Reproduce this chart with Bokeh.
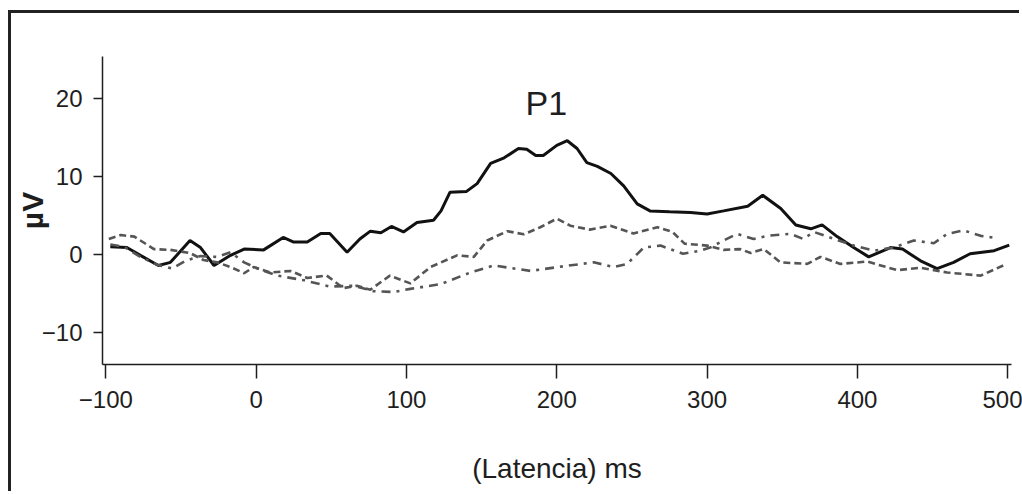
from bokeh.plotting import figure
from bokeh.models import Range1d, FixedTicker
from bokeh.core.properties import value
from bokeh.embed import file_html
from bokeh.resources import INLINE

# ---- data ----
solid_ms = [-97, -86, -77, -65, -57, -44, -37, -28, -17, -8, 5, 18, 25, 34, 43, 49, 60.5, 69, 76, 83,
            90, 98, 107, 118, 123, 129, 140, 147, 156, 165, 174.5, 180, 186, 191, 200, 207, 213.5, 220, 227, 236,
            244.5, 253.5, 262, 275, 289, 300, 311, 327, 337, 349, 359, 369, 376.5, 386.5, 397.5, 407.5, 422, 430, 442, 453,
            464, 475, 491, 501]
solid_uv = [1.0, 0.9, -0.1, -1.4, -1.0, 1.8, 0.9, -1.4, -0.1, 0.7, 0.6, 2.2, 1.6, 1.6, 2.7, 2.7, 0.3, 2.0, 3.0, 2.8,
            3.6, 2.9, 4.1, 4.4, 5.6, 8.0, 8.1, 9.1, 11.7, 12.4, 13.6, 13.5, 12.7, 12.7, 14.0, 14.6, 13.6, 11.8, 11.3, 10.4,
            8.8, 6.5, 5.6, 5.5, 5.4, 5.2, 5.6, 6.2, 7.6, 5.9, 3.8, 3.3, 3.8, 2.3, 0.9, -0.3, 0.9, 0.7, -0.8, -1.8,
            -1.0, 0.1, 0.5, 1.2]

dashed_ms = [-98, -90, -81, -68, -57, -44, -35, -26, -17, -8, -1.6, 9.5, 23, 34, 47, 58, 67, 76, 89, 102.6,
             116, 133.7, 144.8, 153.7, 167, 178, 189, 200, 209, 222, 235.7, 251, 267, 277, 285, 300, 311, 322, 329, 337.7,
             348.8, 366.6, 375.4, 388.7, 406.5, 426.4, 442, 459.7, 482, 497]
dashed_uv = [2.0, 2.5, 2.3, 0.7, 0.6, 0.2, -0.7, -1.0, -1.6, -2.4, -1.6, -2.3, -2.1, -3.0, -2.7, -4.3, -4.0, -4.5, -2.7, -3.7,
             -1.6, -0.1, -0.3, 1.8, 3.0, 2.6, 3.5, 4.6, 3.7, 3.2, 3.7, 2.7, 3.5, 2.9, 1.4, 1.15, 0.6, 0.7, 0.2, 0.7,
             -1.0, -1.2, -0.3, -1.2, -0.9, -2.0, -1.7, -2.3, -2.7, -1.4]

dashdot_ms = [-97, -88, -77, -66, -56, -47, -37, -26, -17, -8, 1, 14, 32, 49, 65, 78, 91.5, 102.6, 122.6, 142.6,
              158, 182.5, 204.6, 224.6, 238, 246.8, 257.9, 269, 284, 295.6, 302, 311, 320, 331, 340, 355.4, 364, 371, 397.5, 410.9,
              424, 437.5, 450.8, 459.7, 470.7, 482, 493]
dashdot_uv = [1.3, 1.0, -0.3, -1.3, -1.8, -0.8, -0.2, -0.3, 0.3, -1.0, -1.8, -2.7, -3.3, -4.1, -4.0, -4.7, -4.8, -4.4, -3.8, -2.3,
              -1.4, -2.1, -1.5, -1.0, -1.6, -1.2, 0.9, 1.15, 0.1, 0.5, 0.9, 1.8, 2.65, 2.0, 2.4, 2.65, 2.0, 2.9, 1.15, 0.5,
              0.9, 1.8, 1.45, 2.65, 3.1, 2.4, 2.1]

x_ticks = [-100, 0, 100, 200, 300, 400, 500]
y_ticks = [-10, 0, 10, 20]
peak_label = "P1"
x_title = "(Latencia) ms"
y_title = "µV"

FONT = "Liberation Sans"
INK = "#1e1e1e"

p = figure(width=1011, height=481, output_backend="svg", toolbar_location=None,
           x_range=Range1d(-102.2, 502.5), y_range=Range1d(-14.1, 25.4),
           min_border_left=91, min_border_right=11, min_border_top=43, min_border_bottom=130)
# outer frame: only its top and left sides fall inside the picture
p.styles = {"margin-left": "11px", "margin-top": "13px",
            "box-shadow": "-3px -3px 0px 0px #222222"}
p.outline_line_color = None
p.grid.visible = False
p.background_fill_color = "white"
p.border_fill_color = "white"

p.line(solid_ms, solid_uv, line_color="#111111", line_width=3)
p.line(dashed_ms, dashed_uv, line_color="#555555", line_width=2.6, line_dash="7 4")
p.line(dashdot_ms, dashdot_uv, line_color="#555555", line_width=2.6, line_dash="9 6 3 6")

p.text(x=[193], y=[19.5], text=[peak_label], text_font=value(FONT), text_font_size="34px",
       text_color=INK, text_align="center", text_baseline="alphabetic")

minus = "\u2212"
xa = p.xaxis[0]
xa.ticker = FixedTicker(ticks=x_ticks)
xa.major_label_overrides = {t: (minus + str(-t) if t < 0 else str(t)) for t in x_ticks}
ya = p.yaxis[0]
ya.ticker = FixedTicker(ticks=y_ticks)
ya.major_label_overrides = {t: (minus + str(-t) if t < 0 else str(t)) for t in y_ticks}

for ax in (xa, ya):
    ax.axis_line_color = INK
    ax.axis_line_width = 1.5
    ax.major_tick_line_color = INK
    ax.major_tick_line_width = 1.5
    ax.minor_tick_line_color = None
    ax.major_label_text_font = FONT
    ax.major_label_text_font_size = "24px"
    ax.major_label_text_color = INK
    ax.axis_label_text_font = FONT
    ax.axis_label_text_color = INK

xa.major_tick_in = 0
xa.major_tick_out = 14
xa.major_label_standoff = 12
xa.axis_label = x_title
xa.axis_label_text_font_size = "28px"
xa.axis_label_text_font_style = "normal"
xa.axis_label_standoff = 42

ya.major_tick_in = 0
ya.major_tick_out = 9
ya.major_label_standoff = 11
ya.axis_label = y_title
ya.axis_label_text_font_size = "30px"
ya.axis_label_text_font_style = "bold"
ya.axis_label_standoff = -10

open("out.html", "w").write(file_html(p, INLINE))
